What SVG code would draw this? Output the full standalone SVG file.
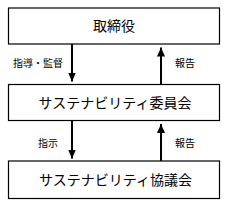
<svg xmlns="http://www.w3.org/2000/svg" width="227" height="205" viewBox="0 0 227 205">
<style>
.box{fill:#fff;stroke:#000;stroke-width:1.2}
.t{font-family:"Noto Sans CJK JP","Noto Sans",sans-serif;fill:#000;text-anchor:middle}
.big{font-size:14px}
.lbl{font-size:10px;font-family:"Noto Sans CJK JP","Noto Sans",sans-serif;fill:#000}
.arr{stroke:#000;stroke-width:2;fill:none}
</style>
<defs>
<marker id="ah" markerUnits="userSpaceOnUse" markerWidth="10" markerHeight="10" viewBox="0 0 10 10" refX="9" refY="5" orient="auto">
<path d="M0,1 L9,5 L0,9 Z" fill="#000"/>
</marker>
</defs>
<g id="node-torishimariyaku">
<rect class="box" x="8.5" y="8" width="211" height="36"/>
<text class="t big" x="114" y="31">取締役</text>
</g>
<g id="node-iinkai">
<rect class="box" x="8.5" y="84.5" width="211" height="36"/>
<text class="t big" x="115" y="108">サステナビリティ委員会</text>
</g>
<g id="node-kyogikai">
<rect class="box" x="8.5" y="161" width="211" height="37.5"/>
<text class="t big" x="115.5" y="185">サステナビリティ協議会</text>
</g>
<g id="connectors">
<line class="arr" x1="72" y1="44" x2="72" y2="81.5" marker-end="url(#ah)"/>
<line class="arr" x1="161" y1="84.5" x2="161" y2="47.5" marker-end="url(#ah)"/>
<line class="arr" x1="72" y1="120.5" x2="72" y2="158.5" marker-end="url(#ah)"/>
<line class="arr" x1="161" y1="161" x2="161" y2="124" marker-end="url(#ah)"/>
<text class="lbl" x="13" y="67">指導・監督</text>
<text class="lbl" x="175" y="67">報告</text>
<text class="lbl" x="38" y="147">指示</text>
<text class="lbl" x="175" y="147">報告</text>
</g>
</svg>
